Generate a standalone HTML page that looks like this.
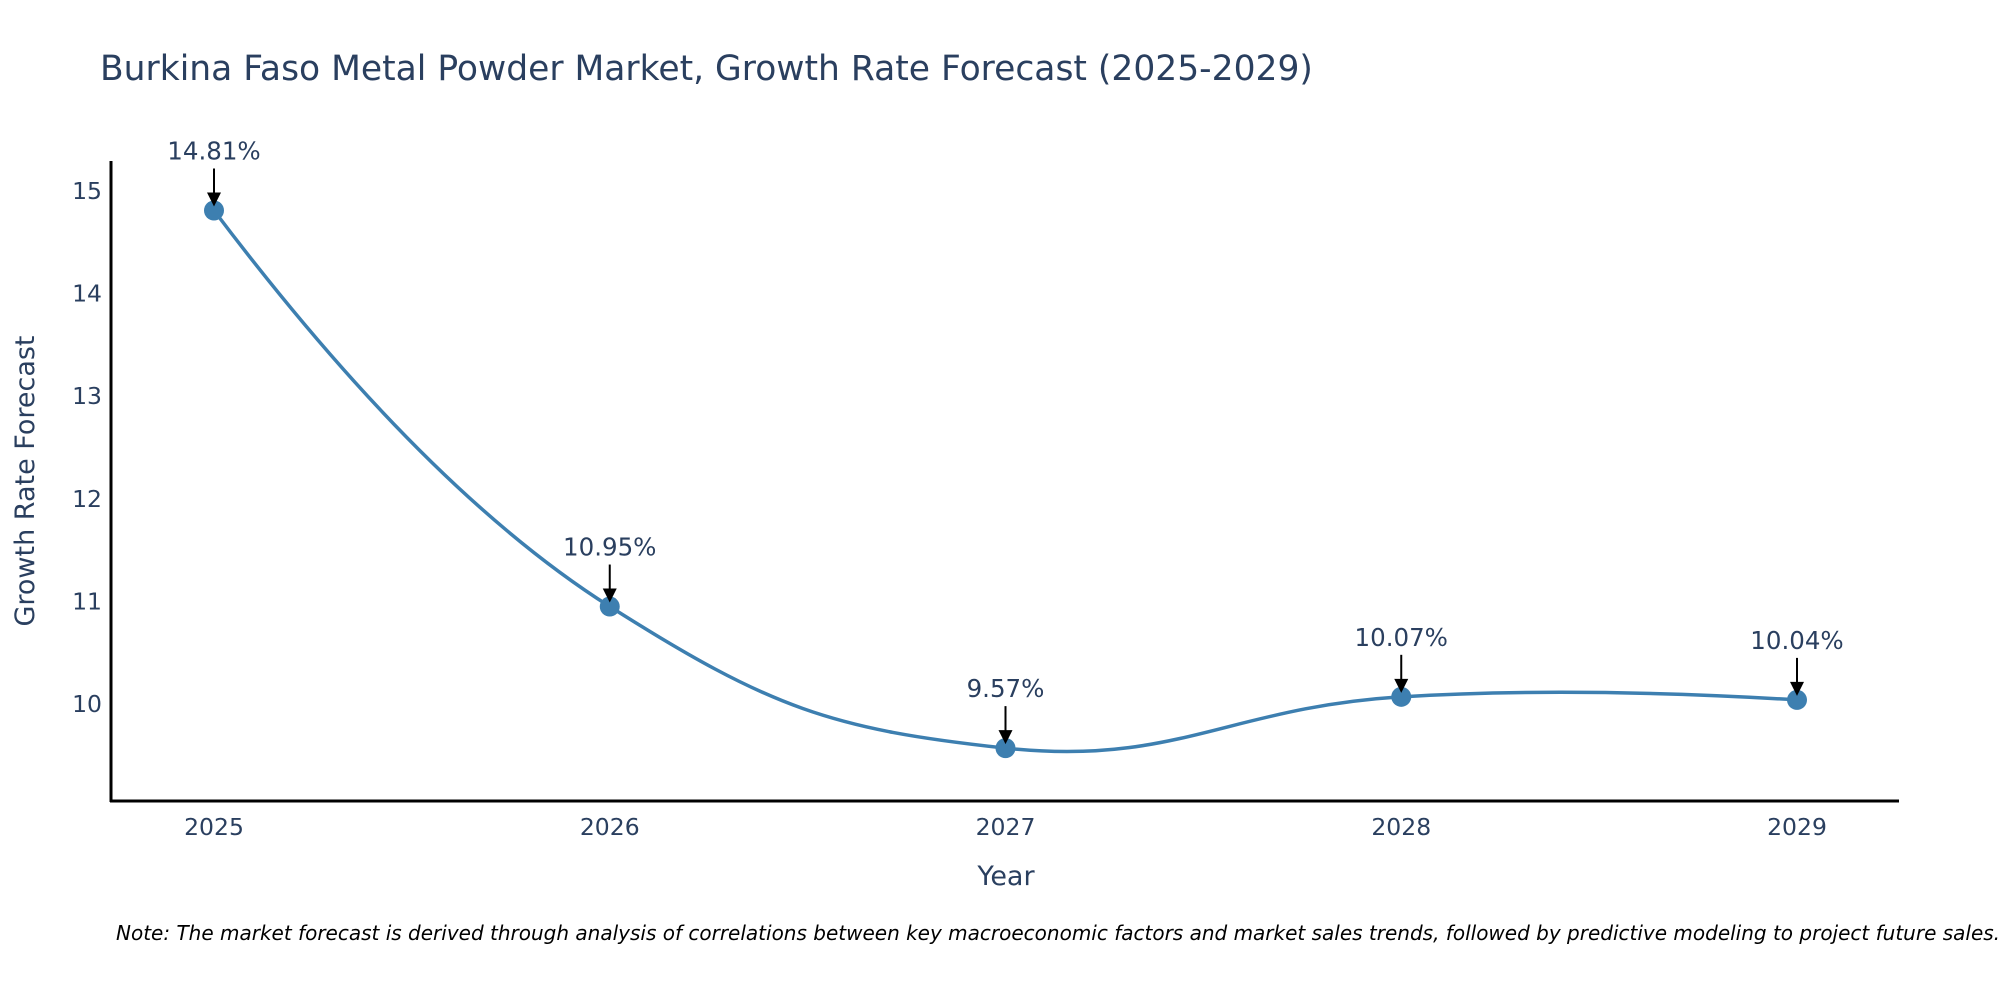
<!DOCTYPE html>
<html><head><meta charset="utf-8"><style>
html,body{margin:0;padding:0;background:#fff;}
svg{display:block;font-family:"DejaVu Sans","Liberation Sans",sans-serif;}
</style></head><body>
<svg id="chart" width="2000" height="1000" viewBox="0 0 2000 1000">
<text x="100" y="80" font-size="34.5" fill="#2a3f5f">Burkina Faso Metal Powder Market, Growth Rate Forecast (2025-2029)</text>
<g id="yticks"></g>
<g id="xticks"></g>
<path id="line" fill="none" stroke="#3d7fb0" stroke-width="3.5"></path>
<g id="marks"></g>
<g id="annots"></g>
<line x1="111" y1="161" x2="111" y2="802" stroke="#000" stroke-width="3"/>
<line x1="110" y1="801" x2="1899" y2="801" stroke="#000" stroke-width="3"/>
<text transform="translate(34,481) rotate(-90)" text-anchor="middle" font-size="27" fill="#2a3f5f">Growth Rate Forecast</text>
<text x="1006" y="885" text-anchor="middle" font-size="27" fill="#2a3f5f">Year</text>
<text x="116" y="940" font-size="20" font-style="italic" fill="#000">Note: The market forecast is derived through analysis of correlations between key macroeconomic factors and market sales trends, followed by predictive modeling to project future sales.</text>
</svg>
<script>
const years = ["2025","2026","2027","2028","2029"];
const growth = [14.81, 10.95, 9.57, 10.07, 10.04];
const yTickValues = [10, 11, 12, 13, 14, 15];
const labels = ["14.81%","10.95%","9.57%","10.07%","10.04%"];

const NS = "http://www.w3.org/2000/svg";
function xPos(i){ return 214 + i * 395.75; }
function yPos(v){ return 704 - (v - 10) * 102.6; }
function mk(tag, attrs, parent){
  const e = document.createElementNS(NS, tag);
  for (const k in attrs) e.setAttribute(k, attrs[k]);
  parent.appendChild(e);
  return e;
}
const yt = document.getElementById('yticks');
yTickValues.forEach(v => {
  const t = mk('text', {x:102, y:yPos(v)+8, 'text-anchor':'end', 'font-size':23.5, fill:'#2a3f5f'}, yt);
  
  
  t.textContent = v;
});
const xt = document.getElementById('xticks');
years.forEach((y, i) => {
  const t = mk('text', {x:xPos(i), y:835, 'text-anchor':'middle', 'font-size':23.5, fill:'#2a3f5f'}, xt);
  
  
  t.textContent = y;
});
const pts = growth.map((v, i) => [xPos(i), yPos(v)]);
function tangent(p, c, n, s){
  const d1x=p[0]-c[0], d1y=p[1]-c[1], d2x=n[0]-c[0], d2y=n[1]-c[1];
  const d1a=Math.pow(d1x*d1x+d1y*d1y,0.25), d2a=Math.pow(d2x*d2x+d2y*d2y,0.25);
  const nx=(d2a*d2a*d1x-d1a*d1a*d2x)*s, ny=(d2a*d2a*d1y-d1a*d1a*d2y)*s;
  const den1=3*d2a*(d1a+d2a), den2=3*d1a*(d1a+d2a);
  return [[c[0]+nx/den1, c[1]+ny/den1],[c[0]-nx/den2, c[1]-ny/den2]];
}
const tg = [];
for (let i = 1; i < pts.length - 1; i++) tg.push(tangent(pts[i-1], pts[i], pts[i+1], 1.3));
let d = 'M' + pts[0] + 'Q' + tg[0][0] + ' ' + pts[1];
for (let i = 2; i < pts.length - 1; i++) d += 'C' + tg[i-2][1] + ' ' + tg[i-1][0] + ' ' + pts[i];
d += 'Q' + tg[pts.length-3][1] + ' ' + pts[pts.length-1];
document.getElementById('line').setAttribute('d', d);
const mg = document.getElementById('marks');
const ag = document.getElementById('annots');
pts.forEach((p, i) => {
  const c = mk('circle', {cx:p[0], cy:p[1], r:10, fill:'#3d7fb0'}, mg);
  
  
  const l = mk('line', {x1:p[0], y1:p[1]-42, x2:p[0], y2:p[1]-14, stroke:'#000', 'stroke-width':2}, ag);
  
  
  const h = mk('polygon', {points:`${p[0]-7},${p[1]-18} ${p[0]+7},${p[1]-18} ${p[0]},${p[1]-4}`, fill:'#000'}, ag);
  
  
  const t = mk('text', {x:p[0], y:p[1]-51, 'text-anchor':'middle', 'font-size':24.5, fill:'#2a3f5f'}, ag);
  
  
  t.textContent = labels[i];
});
</script>
</body></html>
